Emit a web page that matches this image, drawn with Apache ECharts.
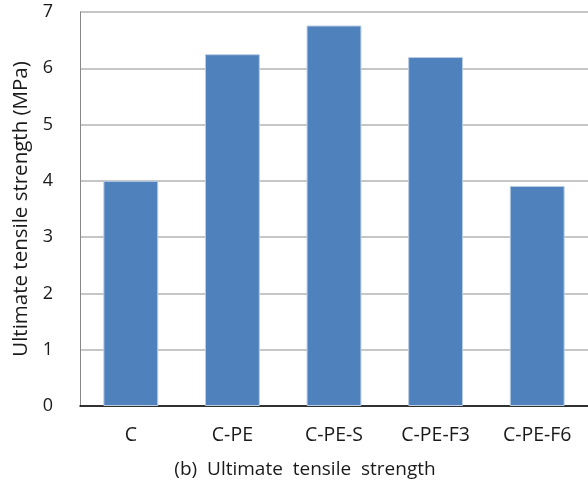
<!DOCTYPE html>
<html>
<head>
<meta charset="utf-8">
<script src="https://cdn.jsdelivr.net/npm/echarts@6/dist/echarts.min.js"></script>
<style>
  html, body { margin: 0; padding: 0; background: #fff; }
  #chart { width: 588px; height: 482px; }
</style>
</head>
<body>
<div id="chart"></div>
<script>
var categories = ['C', 'C-PE', 'C-PE-S', 'C-PE-F3', 'C-PE-F6'];
var strength = [4.0, 6.25, 6.76, 6.2, 3.91];

var chart = echarts.init(document.getElementById('chart'));
var font = '"Open Sans", "Noto Sans", sans-serif';

var option = {
  animation: false,
  title: {
    text: '(b)  Ultimate  tensile  strength',
    left: 300,
    textAlign: 'center',
    top: 455,
    textStyle: { fontFamily: font, fontSize: 19, fontWeight: 'normal', color: '#1a1a1a' }
  },
  grid: { left: 80, top: 12, right: 0, bottom: 76, outerBoundsMode: 'none', containLabel: false },
  xAxis: {
    type: 'category',
    data: categories,
    axisLine: { lineStyle: { color: '#000', width: 1.5 } },
    axisTick: { show: false },
    axisLabel: { fontFamily: font, fontSize: 19.5, color: '#1a1a1a', margin: 19 }
  },
  yAxis: {
    type: 'value',
    min: 0,
    max: 7,
    interval: 1,
    name: 'Ultimate tensile strength (MPa)',
    nameLocation: 'middle',
    nameGap: 48,
    nameTextStyle: { fontFamily: font, fontSize: 20.5, color: '#1a1a1a' },
    axisLine: { show: true, lineStyle: { color: '#888', width: 1 } },
    axisTick: { show: false },
    axisLabel: { fontFamily: font, fontSize: 18, color: '#1a1a1a', margin: 27 },
    splitLine: { lineStyle: { color: '#b3b3b3', width: 1.5 } }
  },
  series: [{
    type: 'bar',
    data: strength,
    barWidth: '54%',
    itemStyle: { color: '#4f81bd', borderColor: '#b9cde5', borderWidth: 1 }
  }]
};

chart.setOption(option);
</script>
</body>
</html>
